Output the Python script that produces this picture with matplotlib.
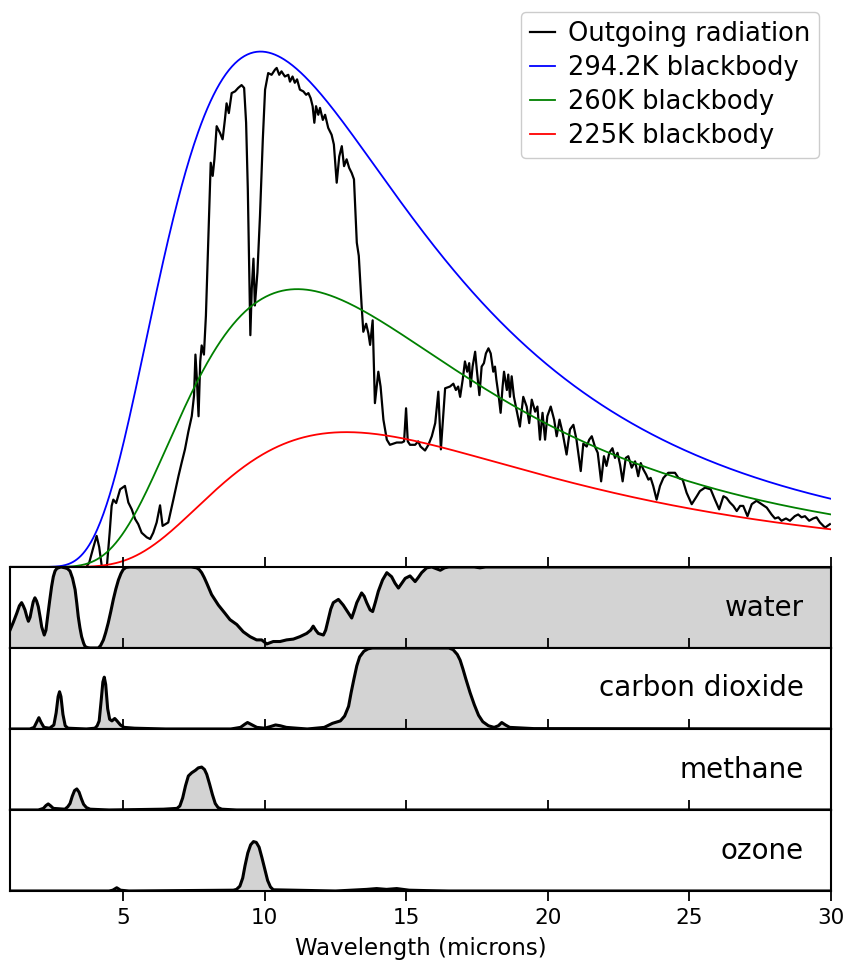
import numpy as np
import matplotlib
matplotlib.use("Agg")
import matplotlib.pyplot as plt

# ---------------- data ----------------
temps = [294.2, 260.0, 225.0]
temp_colors = ["blue", "green", "red"]
temp_labels = ["294.2K blackbody", "260K blackbody", "225K blackbody"]

out_wl = [1.0, 3.70, 3.80, 3.92, 4.06, 4.15, 4.24, 4.30, 4.42, 4.52, 4.59, 4.65, 4.75, 4.89, 5.06,
          5.18, 5.30, 5.42, 5.53, 5.65, 5.83, 5.95, 6.06, 6.18, 6.30, 6.39, 6.59, 6.77, 6.95, 7.06,
          7.18, 7.30, 7.42, 7.50, 7.55, 7.60, 7.66, 7.72, 7.77, 7.85, 7.92, 7.97, 8.02, 8.09, 8.16,
          8.22, 8.30, 8.42, 8.51, 8.59, 8.65, 8.73, 8.83, 8.95, 9.06, 9.18, 9.27, 9.34, 9.40, 9.44,
          9.49, 9.54, 9.60, 9.65, 9.74, 9.83, 9.93, 10.01, 10.12, 10.24, 10.36, 10.42, 10.51, 10.59,
          10.71, 10.83, 10.89, 10.98, 11.06, 11.14, 11.24, 11.36, 11.46, 11.54, 11.62, 11.69, 11.75,
          11.81, 11.89, 11.95, 12.05, 12.13, 12.24, 12.36, 12.44, 12.54, 12.63, 12.72, 12.80, 12.89,
          12.98, 13.07, 13.15, 13.25, 13.32, 13.42, 13.48, 13.58, 13.66, 13.72, 13.81, 13.89, 14.01,
          14.09, 14.19, 14.31, 14.42, 14.66, 14.84, 14.92, 14.99, 15.05, 15.13, 15.31, 15.42, 15.50,
          15.66, 15.78, 15.90, 16.02, 16.13, 16.22, 16.37, 16.54, 16.66, 16.75, 16.83, 16.90, 16.99,
          17.07, 17.15, 17.22, 17.27, 17.34, 17.43, 17.49, 17.58, 17.66, 17.74, 17.81, 17.90, 17.98,
          18.07, 18.13, 18.18, 18.27, 18.33, 18.40, 18.45, 18.55, 18.60, 18.66, 18.72, 18.80, 19.01,
          19.13, 19.25, 19.34, 19.43, 19.55, 19.63, 19.72, 19.81, 19.90, 19.98, 20.10, 20.22, 20.31,
          20.41, 20.52, 20.66, 20.78, 20.90, 21.01, 21.16, 21.25, 21.37, 21.46, 21.55, 21.66, 21.76,
          21.88, 21.98, 22.07, 22.17, 22.28, 22.37, 22.46, 22.55, 22.64, 22.75, 22.84, 22.96, 23.08,
          23.19, 23.28, 23.37, 23.47, 23.55, 23.63, 23.72, 23.84, 23.96, 24.08, 24.25, 24.49, 24.61,
          24.76, 24.90, 25.08, 25.26, 25.37, 25.55, 25.75, 25.90, 26.05, 26.20, 26.31, 26.43, 26.55,
          26.67, 26.79, 26.90, 27.05, 27.20, 27.37, 27.55, 27.73, 27.90, 28.02, 28.14, 28.25, 28.41,
          28.55, 28.72, 28.84, 28.96, 29.08, 29.23, 29.37, 29.49, 29.61, 29.79, 29.96]
out_val = [0.0, 0.0, 0.08, 0.30, 0.545, 0.35, 0.02, 0.0, 0.0, 0.60, 1.07, 1.18, 1.12, 1.36, 1.42,
           1.13, 1.01, 0.84, 0.75, 0.60, 0.52, 0.49, 0.60, 0.78, 1.08, 0.72, 0.78, 1.18, 1.59, 1.82,
           2.06, 2.37, 2.64, 3.00, 3.72, 3.30, 2.64, 3.60, 3.88, 3.72, 4.40, 5.20, 6.00, 7.08, 6.85,
           7.14, 7.72, 7.60, 7.49, 7.83, 8.12, 7.95, 8.30, 8.33, 8.39, 8.44, 8.39, 7.78, 6.62, 5.45,
           4.06, 4.88, 5.40, 4.58, 5.16, 6.15, 7.49, 8.36, 8.65, 8.62, 8.71, 8.74, 8.62, 8.68,
           8.59, 8.62, 8.50, 8.59, 8.48, 8.54, 8.36, 8.33, 8.27, 8.30, 8.21, 8.07, 7.78,
           8.07, 7.92, 8.04, 7.83, 7.92, 7.69, 7.57, 7.40, 6.73, 7.19, 7.37, 7.02, 7.14,
           6.99, 6.90, 6.79, 5.68, 5.45, 4.58, 4.12, 4.26, 4.09, 3.89, 4.32, 2.87, 3.42,
           3.16, 2.58, 2.23, 2.14, 2.18, 2.18, 2.20, 2.78, 2.20, 2.14, 2.14, 2.20, 2.11,
           2.04, 2.14, 2.29, 2.52, 3.07, 2.06, 3.13, 3.16, 3.21, 3.10, 3.16, 2.98, 3.28,
           3.60, 3.42, 3.57, 3.16, 3.51, 3.77, 3.45, 3.01, 3.51, 3.57, 3.74, 3.83, 3.74,
           3.42, 3.51, 3.28, 2.96, 2.70, 3.16, 3.42, 3.10, 3.37, 2.98, 3.34, 2.98, 2.46,
           2.98, 2.81, 2.52, 2.93, 2.72, 2.81, 2.23, 2.70, 2.23, 2.64, 2.81, 2.58, 2.29,
           2.58, 2.35, 1.97, 2.41, 2.49, 2.23, 1.68, 2.16, 2.11, 2.23, 2.29, 2.11, 2.00,
           1.50, 1.94, 1.77, 2.00, 2.08, 1.91, 2.00, 1.79, 1.50, 1.91, 1.94, 1.74, 1.85,
           1.59, 1.82, 1.71, 1.62, 1.53, 1.56, 1.42, 1.18, 1.42, 1.56, 1.65, 1.65, 1.56,
           1.53, 1.30, 1.10, 1.24, 1.33, 1.39, 1.36, 1.18, 1.01, 1.24, 1.21, 1.13, 1.07,
           0.98, 1.07, 1.07, 0.89, 1.10, 1.16, 1.10, 1.04, 0.92, 0.85, 0.87, 0.81, 0.85,
           0.81, 0.89, 0.92, 0.87, 0.89, 0.81, 0.85, 0.87, 0.78, 0.69, 0.75]

water_wl = [1.0, 1.12, 1.24, 1.33, 1.41, 1.47, 1.53, 1.60, 1.65, 1.71, 1.76, 1.82, 1.88, 1.94, 2.00,
            2.07, 2.12, 2.21, 2.27, 2.33, 2.40, 2.47, 2.53, 2.59, 2.65, 2.71, 2.80, 2.94, 3.03,
            3.12, 3.21, 3.30, 3.36, 3.41, 3.47, 3.53, 3.60, 3.65, 3.73, 3.83, 4.00, 4.12, 4.20, 4.30,
            4.38, 4.47, 4.56, 4.65, 4.74, 4.83, 4.92, 5.00, 5.10, 5.25, 7.40, 7.59, 7.68, 7.77,
            7.86, 7.95, 8.12, 8.36, 8.59, 8.77, 9.01, 9.24, 9.48, 9.71, 9.89, 10.07, 10.30, 10.54, 10.77,
            11.01, 11.24, 11.48, 11.62, 11.71, 11.80, 11.89, 12.07, 12.15, 12.24, 12.33, 12.42, 12.60,
            12.77, 12.92, 13.07, 13.16, 13.25, 13.42, 13.51, 13.60, 13.72, 13.81, 13.91, 14.01, 14.16,
            14.31, 14.48, 14.60, 14.72, 14.84, 14.96, 15.13, 15.31, 15.42, 15.54, 15.72, 15.90, 16.05,
            16.20, 16.35, 16.50, 17.40, 17.60, 17.80, 30.0]
water_val = [0.22, 0.32, 0.43, 0.52, 0.56, 0.52, 0.47, 0.38, 0.33, 0.38, 0.47, 0.57, 0.62, 0.58, 0.51,
             0.37, 0.26, 0.16, 0.22, 0.39, 0.58, 0.76, 0.88, 0.95, 0.98, 0.99, 1.0, 0.99, 0.98,
             0.95, 0.86, 0.72, 0.55, 0.39, 0.25, 0.14, 0.06, 0.02, 0.005, 0.0, 0.0, 0.0, 0.03, 0.10,
             0.19, 0.31, 0.45, 0.60, 0.73, 0.84, 0.92, 0.97, 0.995, 1.0, 1.0, 0.99, 0.97, 0.93,
             0.87, 0.80, 0.66, 0.53, 0.43, 0.35, 0.29, 0.20, 0.14, 0.10, 0.10, 0.05, 0.08, 0.08, 0.10,
             0.11, 0.14, 0.18, 0.22, 0.27, 0.22, 0.18, 0.16, 0.22, 0.35, 0.48, 0.56, 0.60,
             0.53, 0.45, 0.37, 0.46, 0.56, 0.68, 0.64, 0.56, 0.47, 0.45, 0.57, 0.70, 0.84,
             0.93, 0.88, 0.80, 0.74, 0.80, 0.86, 0.89, 0.82, 0.87, 0.93, 0.99, 1.0, 0.98,
             0.96, 0.99, 1.0, 1.0, 0.99, 1.0, 1.0]

co2_wl = [1.0, 1.70, 1.85, 1.95, 2.02, 2.10, 2.20, 2.40, 2.55, 2.63, 2.70, 2.75, 2.80, 2.87, 2.95,
          3.05, 3.70, 4.00, 4.08, 4.15, 4.22, 4.28, 4.33, 4.38, 4.45, 4.52, 4.60, 4.70, 4.78, 4.90,
          5.03, 5.40, 6.50, 8.80, 9.14, 9.30, 9.39, 9.50, 9.72, 10.00, 10.20, 10.38, 10.55, 10.76,
          11.50, 12.10, 12.39, 12.67, 12.82, 12.96, 13.05, 13.15, 13.25, 13.35, 13.50, 13.65, 13.80,
          16.50, 16.65, 16.80, 16.90, 17.00, 17.10, 17.25, 17.40, 17.55, 17.70, 17.90, 18.10, 18.25,
          18.37, 18.50, 18.65, 19.50, 30.0]
co2_val = [0.0, 0.0, 0.02, 0.09, 0.14, 0.08, 0.02, 0.01, 0.05, 0.20, 0.40, 0.46, 0.40, 0.18, 0.04,
           0.01, 0.0, 0.01, 0.04, 0.10, 0.35, 0.58, 0.64, 0.55, 0.25, 0.12, 0.10, 0.13, 0.10, 0.05,
           0.02, 0.01, 0.0, 0.0, 0.02, 0.06, 0.08, 0.06, 0.02, 0.01, 0.03, 0.05, 0.04, 0.02,
           0.0, 0.02, 0.07, 0.10, 0.16, 0.28, 0.45, 0.62, 0.78, 0.89, 0.96, 0.99, 1.0,
           1.0, 0.98, 0.92, 0.85, 0.74, 0.62, 0.45, 0.30, 0.17, 0.09, 0.04, 0.02, 0.04,
           0.08, 0.05, 0.02, 0.005, 0.0]

ch4_wl = [1.0, 2.00, 2.18, 2.27, 2.35, 2.44, 2.53, 2.94, 3.04, 3.12, 3.20, 3.28, 3.36, 3.44, 3.52,
          3.60, 3.70, 3.83, 4.50, 6.42, 6.90, 7.00, 7.10, 7.20, 7.30, 7.42, 7.55, 7.65, 7.77, 7.87,
          7.95, 8.05, 8.15, 8.25, 8.35, 8.48, 9.00, 30.0]
ch4_val = [0.0, 0.0, 0.02, 0.055, 0.075, 0.05, 0.02, 0.01, 0.04, 0.08, 0.17, 0.24, 0.26, 0.22, 0.14,
           0.07, 0.03, 0.01, 0.0, 0.01, 0.02, 0.05, 0.15, 0.30, 0.42, 0.46, 0.49, 0.52, 0.53, 0.50,
           0.44, 0.32, 0.19, 0.08, 0.03, 0.01, 0.0, 0.0]

o3_wl = [1.0, 4.50, 4.63, 4.70, 4.77, 4.84, 4.90, 5.20, 8.89, 9.00, 9.12, 9.22, 9.30, 9.40, 9.50,
         9.60, 9.70, 9.80, 9.90, 10.00, 10.10, 10.20, 10.30, 12.50, 13.60, 13.95, 14.30, 14.66,
         15.10, 15.70, 16.50, 30.0]
o3_val = [0.0, 0.0, 0.01, 0.025, 0.04, 0.025, 0.01, 0.0, 0.01, 0.02, 0.06, 0.16, 0.31, 0.47, 0.57,
          0.61, 0.60, 0.54, 0.41, 0.27, 0.13, 0.05, 0.015, 0.0, 0.02, 0.03, 0.02, 0.03,
          0.01, 0.005, 0.0, 0.0]

gases = ["water", "carbon dioxide", "methane", "ozone"]
gas_wl = [water_wl, co2_wl, ch4_wl, o3_wl]
gas_val = [water_val, co2_val, ch4_val, o3_val]

xticks = [5, 10, 15, 20, 25, 30]


def planck(wl_um, T):
    """Planck spectral radiance, W m^-2 sr^-1 um^-1."""
    c1 = 1.191042e8
    c2 = 1.4387770e4
    return c1 / wl_um**5 / (np.exp(c2 / (wl_um * T)) - 1.0)


# ---------------- figure ----------------
fig = plt.figure(figsize=(8.47, 9.63), dpi=100)
gs = fig.add_gridspec(5, 1, height_ratios=[7, 1, 1, 1, 1], hspace=0,
                      left=10 / 847, right=831 / 847, top=1.0, bottom=1 - 891 / 963)

ax0 = fig.add_subplot(gs[0])
axes = [fig.add_subplot(gs[i + 1], sharex=ax0) for i in range(4)]

wl = np.linspace(1.0, 30.0, 800)
ax0.plot(out_wl, out_val, color="black", lw=1.6, label="Outgoing radiation")
for T, c, lab in zip(temps, temp_colors, temp_labels):
    ax0.plot(wl, planck(wl, T), color=c, lw=1.3, label=lab)
ax0.set_xlim(1, 30)
ax0.set_ylim(0, 9.93)
ax0.axis("off")
leg = ax0.legend(loc="upper right", fontsize=18.5, handlelength=1.0, handletextpad=0.5,
                 labelspacing=0.32, borderpad=0.35, borderaxespad=0.45, framealpha=1.0)
leg.get_frame().set_edgecolor("0.8")
leg.get_frame().set_linewidth(1.0)

for i, (ax, name, gw, gv) in enumerate(zip(axes, gases, gas_wl, gas_val)):
    ax.fill_between(gw, 0, gv, color="lightgray", lw=0)
    ax.plot(gw, gv, color="black", lw=2.2, solid_joinstyle="round")
    ax.set_xlim(1, 30)
    ax.set_ylim(0, 1)
    ax.set_yticks([])
    for s in ax.spines.values():
        s.set_linewidth(1.5)
    ax.text(0.967, 0.5, name, transform=ax.transAxes, ha="right", va="center", fontsize=20)
    last = (i == 3)
    ax.tick_params(axis="x", direction="out", top=True, bottom=last, labeltop=False,
                   labelbottom=last, length=7.5, width=1.3, labelsize=15.5, pad=5)

axes[-1].set_xticks(xticks)
axes[-1].set_xlabel("Wavelength (microns)", fontsize=16.5, labelpad=6)

fig.savefig("out.png", dpi=100)
